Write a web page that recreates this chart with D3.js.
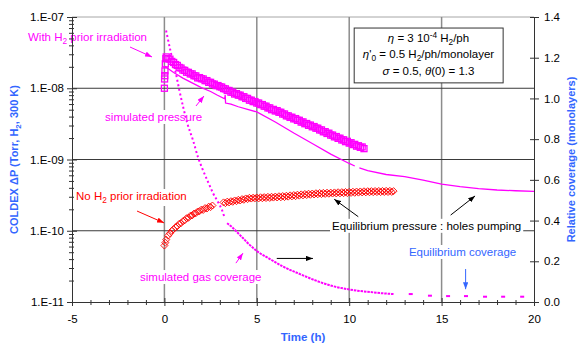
<!DOCTYPE html>
<html>
<head>
<meta charset="utf-8">
<script src="https://cdn.jsdelivr.net/npm/d3@7"></script>
<style>
  html, body { margin: 0; padding: 0; background: #fff; }
  svg { display: block; font-family: "Liberation Sans", Arial, sans-serif; }
</style>
</head>
<body>
<svg id="chart" width="578" height="345"></svg>
<script>
// ---- axes ----
const timeDomain = [-5, 20];
const timeTicks = [-5, 0, 5, 10, 15, 20];
const timeTickLabels = ["-5", "0", "5", "10", "15", "20"];
const pressureDomain = [1e-11, 1e-7];
const pressureTicks = [1e-11, 1e-10, 1e-9, 1e-8, 1e-7];
const pressureTickLabels = ["1.E-11", "1.E-10", "1.E-09", "1.E-08", "1.E-07"];
const coverageDomain = [0, 1.4];
const coverageTicks = [0, 0.2, 0.4, 0.6, 0.8, 1.0, 1.2, 1.4];
const coverageTickLabels = ["0.0", "0.2", "0.4", "0.6", "0.8", "1.0", "1.2", "1.4"];

// ---- measured pressure, H2 prior irradiation [h, Torr] ----
const withH2Measured = [
  [0.00, 10.0e-9], [0.01, 13.5e-9], [0.02, 15.0e-9], [0.03, 17.5e-9], [0.05, 22.0e-9], [0.08, 26.0e-9],
  [0.1, 27.5e-9], [0.2, 26.0e-9], [0.3, 25.6e-9], [0.4, 23.8e-9], [0.5, 23.0e-9], [0.6, 21.5e-9], [0.7, 20.9e-9], [0.8, 19.6e-9], [0.9, 19.2e-9], [1.0, 18.0e-9],
  [1.1, 17.8e-9], [1.2, 16.8e-9], [1.3, 16.7e-9], [1.4, 15.9e-9], [1.5, 15.9e-9], [1.6, 15.0e-9], [1.7, 14.9e-9], [1.8, 14.0e-9], [1.9, 14.1e-9], [2.0, 13.6e-9],
  [2.1, 13.5e-9], [2.2, 12.8e-9], [2.3, 12.8e-9], [2.4, 12.1e-9], [2.5, 12.1e-9], [2.6, 11.5e-9], [2.7, 11.4e-9], [2.8, 10.9e-9], [2.9, 10.9e-9], [3.0, 10.5e-9],
  [3.1, 10.4e-9], [3.2, 9.9e-9], [3.3, 9.8e-9], [3.4, 9.3e-9], [3.5, 9.3e-9], [3.6, 8.8e-9], [3.7, 8.8e-9], [3.8, 8.3e-9], [3.9, 8.4e-9], [4.0, 8.0e-9],
  [4.1, 8.0e-9], [4.2, 7.6e-9], [4.3, 7.6e-9], [4.4, 7.2e-9], [4.5, 7.2e-9], [4.6, 6.8e-9], [4.7, 6.8e-9], [4.8, 6.5e-9], [4.9, 6.5e-9], [5.0, 6.2e-9],
  [5.1, 6.2e-9], [5.2, 5.9e-9], [5.3, 5.9e-9], [5.4, 5.6e-9], [5.5, 5.6e-9], [5.6, 5.3e-9], [5.7, 5.3e-9], [5.8, 5.0e-9], [5.9, 5.05e-9], [6.0, 4.8e-9],
  [6.1, 4.85e-9], [6.2, 4.6e-9], [6.3, 4.6e-9], [6.4, 4.35e-9], [6.5, 4.35e-9], [6.6, 4.1e-9], [6.7, 4.1e-9], [6.8, 3.9e-9], [6.9, 3.92e-9], [7.0, 3.72e-9],
  [7.1, 3.75e-9], [7.2, 3.55e-9], [7.3, 3.55e-9], [7.4, 3.35e-9], [7.5, 3.37e-9], [7.6, 3.18e-9], [7.7, 3.2e-9], [7.8, 3.02e-9], [7.9, 3.04e-9], [8.0, 2.88e-9],
  [8.1, 2.9e-9], [8.2, 2.75e-9], [8.3, 2.75e-9], [8.4, 2.6e-9], [8.5, 2.6e-9], [8.6, 2.45e-9], [8.7, 2.46e-9], [8.8, 2.32e-9], [8.9, 2.34e-9], [9.0, 2.2e-9],
  [9.1, 2.2e-9], [9.2, 2.08e-9], [9.3, 2.1e-9], [9.4, 1.98e-9], [9.5, 1.99e-9], [9.6, 1.88e-9], [9.7, 1.89e-9], [9.8, 1.78e-9], [9.9, 1.8e-9], [10.0, 1.7e-9],
  [10.1, 1.72e-9], [10.2, 1.62e-9], [10.3, 1.63e-9], [10.4, 1.54e-9], [10.5, 1.56e-9], [10.6, 1.48e-9], [10.7, 1.5e-9], [10.8, 1.42e-9]
];

// ---- simulated pressure [h, Torr]; null marks a gap in the trace ----
const simulatedPressure = [
  [0.0, 20.5e-9], [0.5, 16.6e-9], [1.0, 13.9e-9], [1.5, 11.9e-9], [2.0, 10.2e-9], [2.5, 9.0e-9], [2.85, 8.04e-9],
  [3.26, 7.1e-9], [3.29, 8.0e-9], [3.31, 6.2e-9], [3.6, 6.0e-9], [4.0, 5.5e-9], [4.5, 5.04e-9], [5.0, 4.65e-9],
  [6.0, 3.36e-9], [7.0, 2.35e-9], [8.0, 1.68e-9], [9.0, 1.19e-9], [10.0, 0.88e-9], [10.3, 0.81e-9], [10.42, null],
  [10.55, 0.76e-9], [11.0, 0.70e-9], [12.0, 0.616e-9], [13.0, 0.575e-9], [14.0, 0.513e-9], [15.0, 0.45e-9],
  [16.0, 0.415e-9], [17.0, 0.39e-9], [18.0, 0.373e-9], [19.0, 0.364e-9], [20.0, 0.358e-9]
];

// ---- measured pressure, no H2 prior irradiation [h, Torr] ----
const noH2Measured = [
  [0.00, 0.62e-10], [0.05, 0.68e-10], [0.1, 0.75e-10], [0.2, 0.85e-10], [0.3, 0.92e-10], [0.4, 1.00e-10], [0.5, 1.05e-10],
  [0.6, 1.12e-10], [0.7, 1.16e-10], [0.8, 1.25e-10], [0.9, 1.28e-10], [1.0, 1.36e-10], [1.1, 1.40e-10], [1.2, 1.50e-10],
  [1.3, 1.52e-10], [1.4, 1.62e-10], [1.5, 1.64e-10], [1.6, 1.74e-10], [1.7, 1.76e-10], [1.8, 1.86e-10], [1.9, 1.88e-10],
  [2.0, 1.98e-10], [2.1, 1.96e-10], [2.2, 2.08e-10], [2.3, 2.05e-10], [2.4, 2.18e-10], [2.5, 2.15e-10], [2.6, 2.26e-10],
  [3.2, 2.50e-10], [3.3, 2.44e-10], [3.4, 2.56e-10], [3.5, 2.50e-10], [3.6, 2.60e-10], [3.7, 2.55e-10], [3.8, 2.66e-10],
  [3.9, 2.60e-10], [4.0, 2.72e-10], [4.1, 2.66e-10], [4.2, 2.78e-10], [4.3, 2.72e-10], [4.4, 2.84e-10], [4.5, 2.78e-10],
  [4.6, 2.90e-10], [4.7, 2.83e-10], [4.8, 2.91e-10], [4.9, 2.85e-10], [5.0, 2.93e-10], [5.1, 2.84e-10], [5.2, 2.95e-10],
  [5.3, 2.86e-10], [5.4, 2.96e-10], [5.5, 2.88e-10], [5.6, 2.99e-10], [5.7, 2.89e-10], [5.8, 3.00e-10], [5.9, 2.92e-10],
  [6.0, 3.02e-10], [6.1, 2.93e-10], [6.2, 3.05e-10], [6.3, 2.95e-10], [6.4, 3.07e-10], [6.5, 2.97e-10], [6.6, 3.10e-10],
  [6.7, 3.01e-10], [6.8, 3.14e-10], [6.9, 3.04e-10], [7.0, 3.17e-10], [7.1, 3.06e-10], [7.2, 3.21e-10], [7.3, 3.11e-10],
  [7.4, 3.24e-10], [7.5, 3.14e-10], [7.6, 3.28e-10], [7.7, 3.17e-10], [7.8, 3.31e-10], [7.9, 3.20e-10], [8.0, 3.33e-10],
  [8.1, 3.23e-10], [8.2, 3.36e-10], [8.3, 3.25e-10], [8.4, 3.39e-10], [8.5, 3.27e-10], [8.6, 3.40e-10], [8.7, 3.29e-10],
  [8.8, 3.42e-10], [8.9, 3.31e-10], [9.0, 3.43e-10], [9.1, 3.33e-10], [9.2, 3.45e-10], [9.3, 3.34e-10], [9.4, 3.47e-10],
  [9.5, 3.35e-10], [9.6, 3.48e-10], [9.7, 3.37e-10], [9.8, 3.50e-10], [9.9, 3.38e-10], [10.0, 3.51e-10], [10.1, 3.40e-10],
  [10.2, 3.53e-10], [10.3, 3.41e-10], [10.4, 3.55e-10], [10.5, 3.43e-10], [10.6, 3.56e-10], [10.7, 3.45e-10], [10.8, 3.58e-10],
  [10.9, 3.46e-10], [11.0, 3.59e-10], [11.1, 3.47e-10], [11.2, 3.60e-10], [11.3, 3.48e-10], [11.4, 3.61e-10], [11.5, 3.49e-10],
  [11.6, 3.62e-10], [11.7, 3.49e-10], [11.8, 3.62e-10], [11.9, 3.50e-10], [12.0, 3.63e-10], [12.1, 3.50e-10], [12.2, 3.63e-10],
  [12.3, 3.51e-10], [12.4, 3.60e-10]
];

// ---- simulated gas coverage [h, monolayers] ----
const simulatedCoverageFast = [
  [0.09, 1.334], [0.36, 1.221], [0.61, 1.128], [0.81, 1.040], [1.02, 0.956], [1.24, 0.878], [1.55, 0.794],
  [1.82, 0.711], [2.09, 0.647], [2.39, 0.584], [2.63, 0.535], [2.93, 0.486], [3.12, 0.451], [3.23, 0.422]
];
const simulatedCoverageSlow = [
  [3.39, 0.387], [3.66, 0.368], [3.93, 0.343], [4.25, 0.314], [4.52, 0.289], [5.01, 0.250], [5.71, 0.211],
  [6.42, 0.174], [7.34, 0.137], [8.26, 0.103], [9.12, 0.078], [10.04, 0.061], [10.58, 0.054], [11.12, 0.049],
  [11.66, 0.044], [12.4, 0.039]
];
const simulatedCoverageTail = [
  [13.33, 0.039], [14.37, 0.031], [15.35, 0.029], [16.32, 0.029], [17.35, 0.026], [18.33, 0.026], [19.36, 0.026]
];

// ---- colours ----
const MAGENTA = "#ff00ff", RED = "#ff0000", BLUE = "#3366ff", INK = "#000";

const svg = d3.select("#chart");
const plot = { left: 72, right: 534, top: 17, bottom: 302 };

const x = d3.scaleLinear().domain(timeDomain).range([plot.left, plot.right]);
const yP = d3.scaleLog().domain(pressureDomain).range([plot.bottom, plot.top]);
const yC = d3.scaleLinear().domain(coverageDomain).range([plot.bottom, plot.top]);

const gridLayer = svg.append("g");
const bgLayer = svg.append("g");
const dataLayer = svg.append("g");
const noteLayer = svg.append("g");
const axisLayer = svg.append("g");

// ---- grid ----
gridLayer.append("line")
  .attr("x1", plot.left).attr("x2", plot.right)
  .attr("y1", plot.top).attr("y2", plot.top)
  .attr("stroke", "#a6a6a6").attr("stroke-width", 1);
gridLayer.selectAll("line.v").data(timeTicks.slice(1, -1)).join("line")
  .attr("class", "v")
  .attr("x1", d => x(d)).attr("x2", d => x(d))
  .attr("y1", plot.top).attr("y2", plot.bottom)
  .attr("stroke", "#8c8c8c").attr("stroke-width", 1.5);
gridLayer.selectAll("line.h").data(pressureTicks.slice(1, -1)).join("line")
  .attr("class", "h")
  .attr("x1", plot.left).attr("x2", plot.right)
  .attr("y1", d => yP(d)).attr("y2", d => yP(d))
  .attr("stroke", "#3a3a3a").attr("stroke-width", 1);

// ---- data ----
const pressureLine = d3.line()
  .defined(d => d[1] != null)
  .x(d => x(d[0])).y(d => yP(d[1]));
const coverageLine = d3.line()
  .x(d => x(d[0])).y(d => yC(d[1]))
  .curve(d3.curveMonotoneX);

dataLayer.append("path")
  .datum(simulatedPressure)
  .attr("d", pressureLine)
  .attr("fill", "none").attr("stroke", MAGENTA).attr("stroke-width", 1.3);

dataLayer.append("path")
  .datum(simulatedCoverageFast)
  .attr("d", coverageLine)
  .attr("fill", "none").attr("stroke", MAGENTA).attr("stroke-width", 2)
  .attr("stroke-dasharray", "2 2.6");
dataLayer.append("path")
  .datum(simulatedCoverageSlow)
  .attr("d", coverageLine)
  .attr("fill", "none").attr("stroke", MAGENTA).attr("stroke-width", 2)
  .attr("stroke-dasharray", "2.5 0.9");
dataLayer.selectAll("rect.tail").data(simulatedCoverageTail).join("rect")
  .attr("class", "tail")
  .attr("x", d => x(d[0]) - 2).attr("y", d => yC(d[1]) - 1)
  .attr("width", 4).attr("height", 2)
  .attr("fill", MAGENTA);

dataLayer.selectAll("rect.sq").data(withH2Measured).join("rect")
  .attr("class", "sq")
  .attr("x", d => x(d[0]) - 3).attr("y", d => yP(d[1]) - 3)
  .attr("width", 6).attr("height", 6)
  .attr("fill", "none").attr("stroke", MAGENTA).attr("stroke-width", 1.3);

dataLayer.selectAll("path.dm").data(noH2Measured).join("path")
  .attr("class", "dm")
  .attr("d", d => {
    const cx = x(d[0]), cy = yP(d[1]);
    return `M${cx},${cy - 3.5}L${cx + 3.5},${cy}L${cx},${cy + 3.5}L${cx - 3.5},${cy}Z`;
  })
  .attr("fill", "none").attr("stroke", RED).attr("stroke-width", 0.9);

// ---- rich text helper (italic, sub- and superscripts) ----
function rich(textSel, parts, size) {
  let shift = 0;
  parts.forEach(p => {
    const target = p.sub ? 3 : p.sup ? -4 : 0;
    const ts = textSel.append("tspan").text(p.t);
    if (target !== shift) ts.attr("dy", target - shift);
    shift = target;
    if (p.sub || p.sup) ts.attr("font-size", size * 0.72);
    if (p.it) ts.attr("font-style", "italic");
  });
  return textSel;
}

// ---- arrowheads ----
const defs = svg.append("defs");
[["m", MAGENTA], ["r", RED], ["k", INK], ["b", BLUE]].forEach(([id, c]) => {
  defs.append("marker")
    .attr("id", "head-" + id)
    .attr("viewBox", "0 0 8 6").attr("refX", 8).attr("refY", 3)
    .attr("markerUnits", "userSpaceOnUse")
    .attr("markerWidth", 7).attr("markerHeight", 5.5)
    .attr("orient", "auto")
    .append("path").attr("d", "M0,0L8,3L0,6Z").attr("fill", c);
});

function arrow(from, to, scaleY, color, id) {
  noteLayer.append("line")
    .attr("x1", x(from[0])).attr("y1", scaleY(from[1]))
    .attr("x2", x(to[0])).attr("y2", scaleY(to[1]))
    .attr("stroke", color).attr("stroke-width", 1)
    .attr("marker-end", `url(#head-${id})`);
}

function note(parts, t, v, scaleY, color, opts = {}) {
  const size = opts.size || 11.5;
  const txt = noteLayer.append("text")
    .attr("x", x(t)).attr("y", scaleY(v))
    .attr("font-size", size).attr("fill", color)
    .attr("text-anchor", opts.anchor || "start");
  rich(txt, parts, size);
  const b = txt.node().getBBox();
  bgLayer.append("rect")
    .attr("x", b.x - 2).attr("y", b.y - 1)
    .attr("width", b.width + 4).attr("height", b.height + 2)
    .attr("fill", "#fff");
  return txt;
}

// ---- annotations ----
note([{ t: "With H" }, { t: "2", sub: true }, { t: " prior irradiation" }], -7.38, 4.6e-8, yP, MAGENTA);
arrow([-1.86, 3.79e-8], [-0.67, 2.75e-8], yP, MAGENTA, "m");

note([{ t: "simulated pressure" }], -3.21, 3.47e-9, yP, MAGENTA);
arrow([1.71, 5.64e-9], [2.14, 7.78e-9], yP, MAGENTA, "m");

note([{ t: "No H" }, { t: "2", sub: true }, { t: " prior irradiation" }], -4.78, 2.70e-10, yP, RED);
arrow([-1.48, 1.89e-10], [-0.02, 1.29e-10], yP, RED, "r");

note([{ t: "simulated gas coverage" }], -1.32, 0.103, yC, MAGENTA);
arrow([3.87, 0.191], [4.25, 0.240], yC, MAGENTA, "m");
arrow([6.08, 0.214], [8.04, 0.214], yC, INK, "k");

note([{ t: "Equilibrium pressure : holes pumping" }], 9.07, 1.03e-10, yP, INK);
arrow([10.49, 1.575e-10], [9.19, 2.77e-10], yP, INK, "k");
arrow([15.49, 1.66e-10], [16.81, 3.08e-10], yP, INK, "k");

note([{ t: "Equilibrium coverage" }], 13.23, 0.226, yC, BLUE);
arrow([16.3, 0.162], [16.3, 0.0628], yC, BLUE, "b");

// ---- parameter box ----
noteLayer.append("rect")
  .attr("x", x(10.27)).attr("y", yP(7.0e-8))
  .attr("width", x(18.33) - x(10.27)).attr("height", yP(1.19e-8) - yP(7.0e-8))
  .attr("fill", "#fff").attr("stroke", "#333").attr("stroke-width", 1);
const boxLines = [
  [[{ t: "η", it: true }, { t: " = 3 10" }, { t: "-4", sup: true }, { t: " H" }, { t: "2", sub: true }, { t: "/ph" }], 4.46e-8],
  [[{ t: "η", it: true }, { t: "'" }, { t: "0", sub: true }, { t: " = 0.5 H" }, { t: "2", sub: true }, { t: "/ph/monolayer" }], 2.62e-8],
  [[{ t: "σ", it: true }, { t: " = 0.5, " }, { t: "θ", it: true }, { t: "(0) = 1.3" }], 1.53e-8]
];
boxLines.forEach(([parts, v]) => {
  const txt = noteLayer.append("text")
    .attr("x", x(14.29)).attr("y", yP(v))
    .attr("font-size", 11.5).attr("fill", INK).attr("text-anchor", "middle");
  rich(txt, parts, 11.5);
});

// ---- axes ----
function styleAxis(g) {
  g.select(".domain").attr("stroke", "#333");
  g.selectAll(".tick line").attr("stroke", "#333");
  g.selectAll(".tick text").attr("font-family", "Liberation Sans, Arial, sans-serif")
    .attr("font-size", 11.5).attr("fill", INK);
}

// left, pressure (log)
const minorP = yP.ticks().filter(d => !pressureTicks.some(m => Math.abs(m - d) / d < 1e-6));
axisLayer.append("g")
  .attr("transform", `translate(${plot.left},0)`)
  .call(d3.axisLeft(yP).tickValues(minorP).tickFormat("").tickSizeInner(3).tickSizeOuter(0))
  .call(g => { g.select(".domain").remove(); g.selectAll(".tick line").attr("x1", 2).attr("stroke", "#333"); });
axisLayer.append("g")
  .attr("transform", `translate(${plot.left},0)`)
  .call(d3.axisLeft(yP).tickValues(pressureTicks).tickFormat((d, i) => pressureTickLabels[i])
    .tickSizeInner(5).tickSizeOuter(0).tickPadding(3))
  .call(styleAxis)
  .call(g => g.selectAll(".tick line").attr("x1", 5));

// bottom, time
const minorT = d3.range(timeDomain[0], timeDomain[1] + 1).filter(d => !timeTicks.includes(d));
axisLayer.append("g")
  .attr("transform", `translate(0,${plot.bottom})`)
  .call(d3.axisBottom(x).tickValues(minorT).tickFormat("").tickSizeInner(3).tickSizeOuter(0))
  .call(g => { g.select(".domain").remove(); g.selectAll(".tick line").attr("y1", -2).attr("stroke", "#333"); });
axisLayer.append("g")
  .attr("transform", `translate(0,${plot.bottom})`)
  .call(d3.axisBottom(x).tickValues(timeTicks).tickFormat((d, i) => timeTickLabels[i])
    .tickSizeInner(4).tickSizeOuter(0).tickPadding(9))
  .call(styleAxis)
  .call(g => g.selectAll(".tick line").attr("y1", -4));

// right, coverage
axisLayer.append("g")
  .attr("transform", `translate(${plot.right},0)`)
  .call(d3.axisRight(yC).tickValues(coverageTicks).tickFormat((d, i) => coverageTickLabels[i])
    .tickSizeInner(5).tickSizeOuter(0).tickPadding(5))
  .call(styleAxis)
  .call(g => g.selectAll(".tick line").attr("x1", -4));

// ---- axis titles ----
const leftTitle = axisLayer.append("text")
  .attr("transform", `translate(18,${(plot.top + plot.bottom) / 2}) rotate(-90)`)
  .attr("text-anchor", "middle").attr("font-size", 11).attr("font-weight", "bold").attr("fill", BLUE);
rich(leftTitle, [{ t: "COLDEX ΔP (Torr, H" }, { t: "2", sub: true }, { t: ", 300 K)" }], 11);

axisLayer.append("text")
  .attr("transform", `translate(575,${(plot.top + plot.bottom) / 2}) rotate(-90)`)
  .attr("text-anchor", "middle").attr("font-size", 11).attr("font-weight", "bold").attr("fill", BLUE)
  .text("Relative coverage (monolayers)");

axisLayer.append("text")
  .attr("x", (plot.left + plot.right) / 2).attr("y", 341)
  .attr("text-anchor", "middle").attr("font-size", 11.5).attr("font-weight", "bold").attr("fill", BLUE)
  .text("Time (h)");
</script>
</body>
</html>
